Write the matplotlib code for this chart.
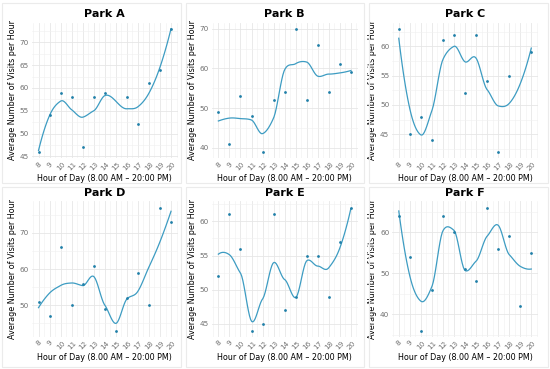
import numpy as np
import matplotlib
matplotlib.use("Agg")
import matplotlib.pyplot as plt
from matplotlib.patches import Rectangle
from matplotlib.ticker import MultipleLocator

# hours of the day
hours = [8, 9, 10, 11, 12, 13, 14, 15, 16, 17, 18, 19, 20]

# average visits per hour (None = no observation)
park_a = [46, 54, 59, 58, 47, 58, 59, None, 58, 52, 61, 64, 73]
park_b = [49, 41, 53, 48, 39, 52, 54, 70, 52, 66, 54, 61, 59]
park_c = [63, 45, 48, 44, 61, 62, 52, 62, 54, 42, 55, None, 59]
park_d = [51, 47, 66, 50, 56, 61, 49, 43, 52, 59, 50, 77, 73]
park_e = [52, 61, 56, 44, 45, 61, 47, 49, 55, 55, 49, 57, 62]
park_f = [64, 54, 36, 46, 64, 60, 51, 48, 66, 56, 59, 42, 55]

parks = ["Park A", "Park B", "Park C", "Park D", "Park E", "Park F"]
values = [park_a, park_b, park_c, park_d, park_e, park_f]
y_steps = [5, 10, 5, 10, 5, 10]

point_col = "#1f7fa8"
line_col = "#3d9cc2"


def local_fit(x, y, x0, q, degree=2):
    # tricube weighted quadratic around x0 -> value and slope
    d = np.abs(x - x0)
    h = np.sort(d)[q - 1] * 1.0001
    w = np.clip(1 - (d / h) ** 3, 0, None) ** 3
    coef = np.polyfit(x - x0, y, degree, w=np.sqrt(w))
    return coef[-1], coef[-2]


def loess(x, y, xs, span=0.6):
    # fit at the data x's (vertices), cubic hermite in between like R's loess
    q = max(int(np.floor(len(x) * span)), 4)
    fits = [local_fit(x, y, v, q) for v in x]
    val = np.array([f[0] for f in fits])
    slp = np.array([f[1] for f in fits])
    out = []
    for t in xs:
        k = min(np.searchsorted(x, t, side="right") - 1, len(x) - 2)
        dx = x[k + 1] - x[k]
        s = (t - x[k]) / dx
        h00 = 2 * s**3 - 3 * s**2 + 1
        h10 = s**3 - 2 * s**2 + s
        h01 = -2 * s**3 + 3 * s**2
        h11 = s**3 - s**2
        out.append(h00 * val[k] + h10 * dx * slp[k] + h01 * val[k + 1] + h11 * dx * slp[k + 1])
    return np.array(out)


fig = plt.figure(figsize=(5.5, 3.69), dpi=100)
lefts = [0.058, 0.385, 0.713]
bottoms = [0.572, 0.087]
w, h = 0.265, 0.367

# faint frames around each small plot
for r in range(2):
    for c in range(3):
        fig.patches.append(Rectangle((c / 3 + 0.004, 0.505 - r * 0.5), 1 / 3 - 0.008, 0.488,
                                     transform=fig.transFigure, fill=False,
                                     edgecolor="#ebebeb", lw=0.8, zorder=0))

for i, (name, vals) in enumerate(zip(parks, values)):
    ax = fig.add_axes([lefts[i % 3], bottoms[i // 3], w, h])
    x = np.array([hr for hr, v in zip(hours, vals) if v is not None], float)
    y = np.array([v for v in vals if v is not None], float)
    xs = np.linspace(x.min(), x.max(), 120)
    ys = loess(x, y, xs)

    ax.plot(xs, ys, color=line_col, lw=0.9, zorder=3)
    ax.scatter(x, y, s=4, color=point_col, zorder=4, linewidths=0)

    lo = min(y.min(), ys.min())
    hi = max(y.max(), ys.max())
    pad = (hi - lo) * 0.05
    ax.set_ylim(lo - pad, hi + pad)
    ax.set_xlim(8 - 0.6, 20 + 0.6)

    ax.set_xticks(hours)
    ax.set_xticklabels([str(hr) for hr in hours], rotation=45)
    ax.xaxis.set_minor_locator(MultipleLocator(0.5))
    ax.yaxis.set_major_locator(MultipleLocator(y_steps[i]))
    ax.yaxis.set_minor_locator(MultipleLocator(y_steps[i] / 2))

    ax.grid(which="major", color="#e6e6e6", lw=0.6)
    ax.grid(which="minor", color="#f0f0f0", lw=0.4)
    ax.set_axisbelow(True)
    ax.patch.set_alpha(0)
    for s in ax.spines.values():
        s.set_visible(False)
    ax.tick_params(which="both", length=0, labelsize=5.2, labelcolor="#707070", pad=2)

    ax.set_title(name, fontsize=8, fontweight="bold", pad=4)
    ax.set_xlabel("Hour of Day (8.00 AM \u2013 20:00 PM)", fontsize=5.8, labelpad=1.5)
    ax.set_ylabel("Average Number of Visits per Hour", fontsize=5.8, labelpad=2)

fig.savefig("out.png", dpi=100)
